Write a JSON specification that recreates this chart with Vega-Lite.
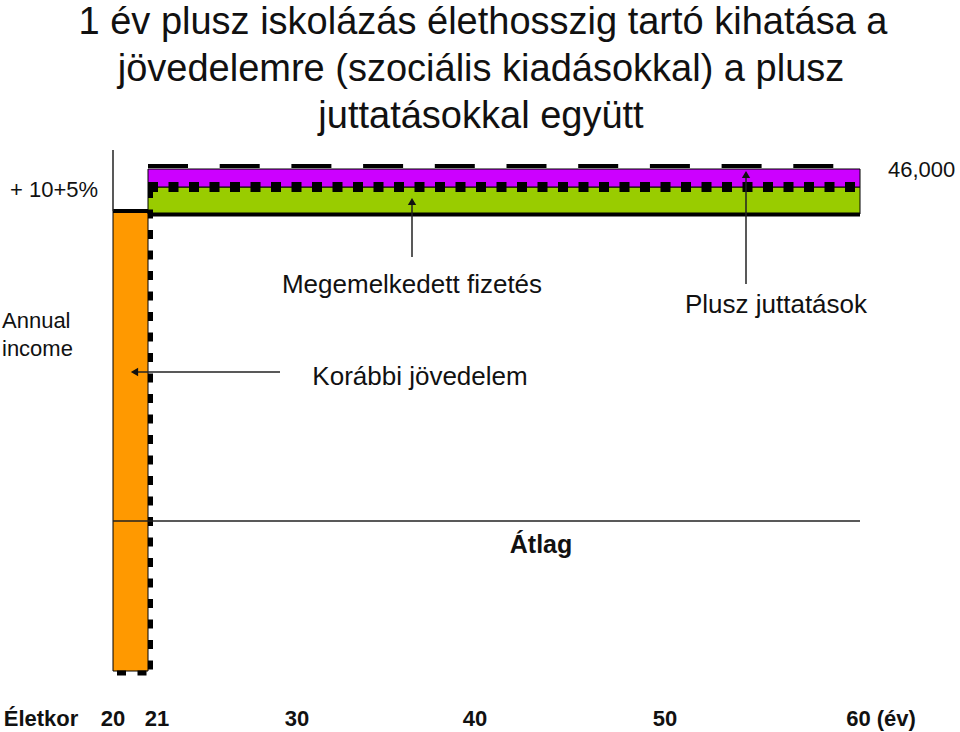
{
  "$schema": "https://vega.github.io/schema/vega-lite/v6.json",
  "width": 960,
  "height": 732,
  "padding": 0,
  "autosize": {"type": "fit", "contains": "padding"},
  "background": "white",
  "config": {"view": {"stroke": null}, "font": "Liberation Sans"},
  "layer": [
    {
      "data": {"values": [
        {"part": "Korábbi jövedelem", "x": 113, "x2": 148, "y": 211, "y2": 671},
        {"part": "Megemelkedett fizetés", "x": 148, "x2": 860, "y": 187, "y2": 214},
        {"part": "Plusz juttatások", "x": 148, "x2": 860, "y": 169, "y2": 187}
      ]},
      "mark": {"type": "rect", "stroke": "#000", "strokeWidth": 1},
      "encoding": {
        "x": {"field": "x", "type": "quantitative", "scale": {"domain": [0, 960], "nice": false, "zero": false}, "axis": null},
        "x2": {"field": "x2"},
        "y": {"field": "y", "type": "quantitative", "scale": {"domain": [0, 732], "nice": false, "zero": false, "reverse": true}, "axis": null},
        "y2": {"field": "y2"},
        "color": {"field": "part", "type": "nominal", "legend": null,
          "scale": {"domain": ["Korábbi jövedelem", "Megemelkedett fizetés", "Plusz juttatások"], "range": ["#FF9900", "#99CC00", "#CC00FF"]}}
      }
    },
    {
      "data": {"values": [
        {"x": 113, "x2": 148, "y": 211, "y2": 211},
        {"x": 148, "x2": 860, "y": 214.5, "y2": 214.5}
      ]},
      "mark": {"type": "rule", "color": "#000", "strokeWidth": 4},
      "encoding": {
        "x": {"field": "x", "type": "quantitative", "scale": {"domain": [0, 960], "nice": false, "zero": false}, "axis": null},
        "x2": {"field": "x2"},
        "y": {"field": "y", "type": "quantitative", "scale": {"domain": [0, 732], "nice": false, "zero": false, "reverse": true}, "axis": null},
        "y2": {"field": "y2"}
      }
    },
    {
      "data": {"values": [{"x": 148, "x2": 860, "y": 166, "y2": 166}]},
      "mark": {"type": "rule", "color": "#000", "strokeWidth": 4, "strokeDash": [40, 31.7], "strokeCap": "butt"},
      "encoding": {
        "x": {"field": "x", "type": "quantitative", "scale": {"domain": [0, 960], "nice": false, "zero": false}, "axis": null},
        "x2": {"field": "x2"},
        "y": {"field": "y", "type": "quantitative", "scale": {"domain": [0, 732], "nice": false, "zero": false, "reverse": true}, "axis": null},
        "y2": {"field": "y2"}
      }
    },
    {
      "data": {"values": [{"x": 148, "x2": 860, "y": 187, "y2": 187}]},
      "mark": {"type": "rule", "color": "#000", "strokeWidth": 10, "strokeDash": [10, 10.5], "strokeCap": "butt"},
      "encoding": {
        "x": {"field": "x", "type": "quantitative", "scale": {"domain": [0, 960], "nice": false, "zero": false}, "axis": null},
        "x2": {"field": "x2"},
        "y": {"field": "y", "type": "quantitative", "scale": {"domain": [0, 732], "nice": false, "zero": false, "reverse": true}, "axis": null},
        "y2": {"field": "y2"}
      }
    },
    {
      "data": {"values": [
        {"x": 150.5, "x2": 150.5, "y": 189, "y2": 672},
        {"x": 117, "x2": 148, "y": 673, "y2": 673}
      ]},
      "mark": {"type": "rule", "color": "#000", "strokeWidth": 5, "strokeDash": [9, 11.5], "strokeCap": "butt"},
      "encoding": {
        "x": {"field": "x", "type": "quantitative", "scale": {"domain": [0, 960], "nice": false, "zero": false}, "axis": null},
        "x2": {"field": "x2"},
        "y": {"field": "y", "type": "quantitative", "scale": {"domain": [0, 732], "nice": false, "zero": false, "reverse": true}, "axis": null},
        "y2": {"field": "y2"}
      }
    },
    {
      "data": {"values": [
        {"x": 113, "x2": 113, "y": 150, "y2": 211},
        {"x": 113, "x2": 860, "y": 521, "y2": 521},
        {"x": 280, "x2": 136, "y": 372, "y2": 372},
        {"x": 412, "x2": 412, "y": 257, "y2": 203},
        {"x": 746, "x2": 746, "y": 284, "y2": 176}
      ]},
      "mark": {"type": "rule", "color": "#222", "strokeWidth": 1.5},
      "encoding": {
        "x": {"field": "x", "type": "quantitative", "scale": {"domain": [0, 960], "nice": false, "zero": false}, "axis": null},
        "x2": {"field": "x2"},
        "y": {"field": "y", "type": "quantitative", "scale": {"domain": [0, 732], "nice": false, "zero": false, "reverse": true}, "axis": null},
        "y2": {"field": "y2"}
      }
    },
    {
      "data": {"values": [
        {"x": 412, "y": 201.5},
        {"x": 746, "y": 174.5}
      ]},
      "mark": {"type": "point", "shape": "triangle-up", "filled": true, "color": "#111", "size": 70, "opacity": 1},
      "encoding": {
        "x": {"field": "x", "type": "quantitative", "scale": {"domain": [0, 960], "nice": false, "zero": false}, "axis": null},
        "y": {"field": "y", "type": "quantitative", "scale": {"domain": [0, 732], "nice": false, "zero": false, "reverse": true}, "axis": null}
      }
    },
    {
      "data": {"values": [{"x": 134.5, "y": 372}]},
      "mark": {"type": "point", "shape": "triangle-left", "filled": true, "color": "#111", "size": 70, "opacity": 1},
      "encoding": {
        "x": {"field": "x", "type": "quantitative", "scale": {"domain": [0, 960], "nice": false, "zero": false}, "axis": null},
        "y": {"field": "y", "type": "quantitative", "scale": {"domain": [0, 732], "nice": false, "zero": false, "reverse": true}, "axis": null}
      }
    },
    {
      "data": {"values": [
        {"text": "1 év plusz iskolázás élethosszig tartó kihatása a", "x": 483, "y": 34},
        {"text": "jövedelemre (szociális kiadásokkal) a plusz", "x": 481, "y": 81},
        {"text": "juttatásokkal együtt", "x": 481, "y": 128}
      ]},
      "mark": {"type": "text", "fontSize": 38, "align": "center", "baseline": "alphabetic", "color": "#111", "font": "Liberation Sans"},
      "encoding": {
        "x": {"field": "x", "type": "quantitative", "scale": {"domain": [0, 960], "nice": false, "zero": false}, "axis": null},
        "y": {"field": "y", "type": "quantitative", "scale": {"domain": [0, 732], "nice": false, "zero": false, "reverse": true}, "axis": null},
        "text": {"field": "text"}
      }
    },
    {
      "data": {"values": [
        {"text": "+ 10+5%", "x": 10, "y": 197},
        {"text": "46,000", "x": 888, "y": 177},
        {"text": "Annual", "x": 2, "y": 328},
        {"text": "income", "x": 2, "y": 356}
      ]},
      "mark": {"type": "text", "fontSize": 22, "align": "left", "baseline": "alphabetic", "color": "#111", "font": "Liberation Sans"},
      "encoding": {
        "x": {"field": "x", "type": "quantitative", "scale": {"domain": [0, 960], "nice": false, "zero": false}, "axis": null},
        "y": {"field": "y", "type": "quantitative", "scale": {"domain": [0, 732], "nice": false, "zero": false, "reverse": true}, "axis": null},
        "text": {"field": "text"}
      }
    },
    {
      "data": {"values": [
        {"text": "Megemelkedett fizetés", "x": 412, "y": 293},
        {"text": "Korábbi jövedelem", "x": 420, "y": 385},
        {"text": "Plusz juttatások", "x": 776, "y": 313}
      ]},
      "mark": {"type": "text", "fontSize": 26, "align": "center", "baseline": "alphabetic", "color": "#111", "font": "Liberation Sans"},
      "encoding": {
        "x": {"field": "x", "type": "quantitative", "scale": {"domain": [0, 960], "nice": false, "zero": false}, "axis": null},
        "y": {"field": "y", "type": "quantitative", "scale": {"domain": [0, 732], "nice": false, "zero": false, "reverse": true}, "axis": null},
        "text": {"field": "text"}
      }
    },
    {
      "data": {"values": [{"text": "Átlag", "x": 541, "y": 553}]},
      "mark": {"type": "text", "fontSize": 25, "fontWeight": "bold", "align": "center", "baseline": "alphabetic", "color": "#111", "font": "Liberation Sans"},
      "encoding": {
        "x": {"field": "x", "type": "quantitative", "scale": {"domain": [0, 960], "nice": false, "zero": false}, "axis": null},
        "y": {"field": "y", "type": "quantitative", "scale": {"domain": [0, 732], "nice": false, "zero": false, "reverse": true}, "axis": null},
        "text": {"field": "text"}
      }
    },
    {
      "data": {"values": [
        {"text": "Életkor", "x": 41, "y": 726},
        {"text": "20", "x": 113, "y": 726},
        {"text": "21", "x": 157, "y": 726},
        {"text": "30", "x": 297, "y": 726},
        {"text": "40", "x": 475, "y": 726},
        {"text": "50", "x": 665, "y": 726},
        {"text": "60 (év)", "x": 881, "y": 726}
      ]},
      "mark": {"type": "text", "fontSize": 22, "fontWeight": "bold", "align": "center", "baseline": "alphabetic", "color": "#111", "font": "Liberation Sans"},
      "encoding": {
        "x": {"field": "x", "type": "quantitative", "scale": {"domain": [0, 960], "nice": false, "zero": false}, "axis": null},
        "y": {"field": "y", "type": "quantitative", "scale": {"domain": [0, 732], "nice": false, "zero": false, "reverse": true}, "axis": null},
        "text": {"field": "text"}
      }
    }
  ]
}
